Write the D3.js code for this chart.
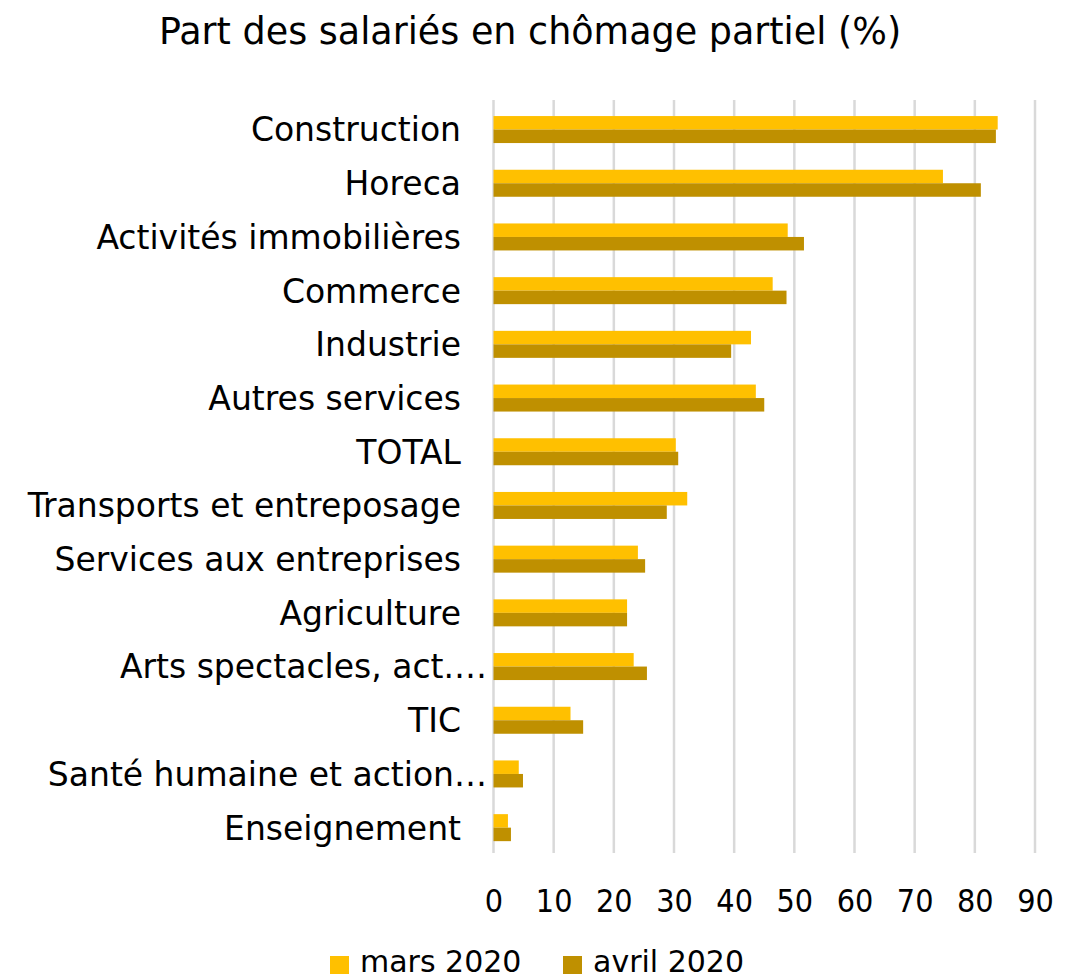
<!DOCTYPE html>
<html><head><meta charset="utf-8">
<script src="https://cdn.jsdelivr.net/npm/d3@7"></script>
<style>body{margin:0;background:#fff}text{font-family:"DejaVu Sans",sans-serif;fill:#000}</style>
</head><body>
<svg id="c" width="1083" height="979"></svg>
<script>
const categories = ["Construction","Horeca","Activités immobilières","Commerce","Industrie","Autres services","TOTAL","Transports et entreposage","Services aux entreprises","Agriculture","Arts spectacles, act.…","TIC","Santé humaine et action…","Enseignement"];
const mars2020  = [83.8,74.7,48.9,46.4,42.8,43.6,30.3,32.2,24.0,22.2,23.3,12.8,4.2,2.4];
const avril2020 = [83.5,81.0,51.6,48.7,39.5,45.0,30.7,28.8,25.2,22.2,25.5,14.9,4.9,2.9];
const seriesNames = ["mars 2020","avril 2020"];
const seriesColors = ["#FFC000","#BF9000"];
const xTicks = [0,10,20,30,40,50,60,70,80,90];
const title = "Part des salariés en chômage partiel (%)";

const svg = d3.select("#c");
const x = d3.scaleLinear().domain([0,90]).range([493.5,1035]);
const y = d3.scaleBand().domain(categories).range([102.7,854.5]).padding(0);
const sub = d3.scaleBand().domain([0,1]).range([0,27]);

// gridlines
svg.append("g").selectAll("line").data(xTicks).join("line")
  .attr("x1",d=>x(d)).attr("x2",d=>x(d)).attr("y1",100).attr("y2",853)
  .attr("stroke","#d9d9d9").attr("stroke-width",2.5);

// bars
const series = [mars2020, avril2020];
series.forEach((vals,si)=>{
  svg.append("g").selectAll("rect").data(categories).join("rect")
    .attr("x",x(0))
    .attr("y",(d)=>y(d)+y.bandwidth()/2-13.5+sub(si))
    .attr("width",(d,i)=>x(vals[i])-x(0))
    .attr("height",sub.bandwidth())
    .attr("fill",seriesColors[si]);
});

// category labels
svg.append("g").selectAll("text").data(categories).join("text")
  .attr("x",d=>d.endsWith("…")?487:461)
  .attr("y",d=>y(d)+y.bandwidth()/2)
  .attr("dy","0.36em").attr("text-anchor","end")
  .style("font-size","33px").text(d=>d);

// x axis
const xa = svg.append("g").attr("transform","translate(0,878)")
  .call(d3.axisBottom(x).tickValues(xTicks).tickSize(0).tickPadding(0));
xa.select(".domain").remove();
xa.selectAll("text").attr("dy","1.05em").style("font-size","32px").style("font-family",'"DejaVu Sans Condensed","DejaVu Sans",sans-serif').attr("fill","#000");

// title
svg.append("text").attr("x",530).attr("y",44).attr("text-anchor","middle")
  .style("font-size","36.5px").text(title);

// legend
const leg = svg.append("g");
const legX = [330,563];
seriesNames.forEach((n,i)=>{
  leg.append("rect").attr("x",legX[i]).attr("y",956).attr("width",19).attr("height",18).attr("fill",seriesColors[i]);
  leg.append("text").attr("x",legX[i]+30).attr("y",972).style("font-size","30px").text(n);
});
</script>
</body></html>
